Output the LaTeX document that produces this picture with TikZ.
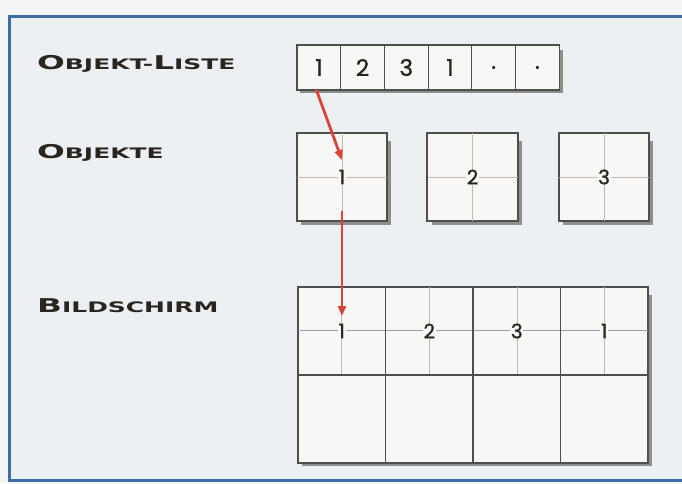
\documentclass[tikz,border=0pt]{standalone}
\usepackage{fontspec}
\setmainfont{Poppins}
\newfontfamily\numfont[FakeBold=1.2]{Poppins}
\newfontfamily\capfont[FakeStretch=1.72]{DejaVu Sans}
\usetikzlibrary{arrows.meta,calc}
\definecolor{pagec}{HTML}{F3F5F6}
\definecolor{bgc}{HTML}{ECF0F3}
\definecolor{boxfill}{HTML}{F7F8F6}
\definecolor{linec}{HTML}{4E4E4C}
\definecolor{thinc}{HTML}{C8B6B2}
\definecolor{thinb}{HTML}{9C9AB4}
\definecolor{shadowc}{HTML}{8E8E8A}
\definecolor{redc}{HTML}{D9443A}
\definecolor{framec}{HTML}{3E6DA6}
\definecolor{inkc}{HTML}{2B2520}
\newcommand\bigC[1]{{\fontsize{19}{20}\selectfont #1}}
\newcommand\smC[1]{{\fontsize{14.5}{16}\selectfont #1}}
\begin{document}
\begin{tikzpicture}[x=1pt,y=-1pt,
  lbl/.style={anchor=base west, inner sep=0, text=inkc, font=\capfont\bfseries},
  boxc/.style={draw=linec, line width=1.1pt, fill=boxfill, inner sep=0},
  cell/.style={boxc, minimum width=43.7, minimum height=45, text=inkc,
    font=\numfont\fontsize{23}{23}\selectfont},
  thinl/.style={draw=thinc, line width=0.7pt},
  thinh/.style={draw=thinb, line width=0.7pt},
  mainl/.style={draw=linec, line width=1.1pt},
  num/.style={inner sep=0.8pt, fill=boxfill, text=inkc, font=\numfont\fontsize{20}{20}\selectfont},
  boxshadow/.style={fill=shadowc},
  redarr/.style={draw=redc, line width=2.8pt, -{Triangle[length=10pt,width=8pt]}}
]
\useasboundingbox (0,0) rectangle (682,483);
\fill[pagec] (0,0) rectangle (682,483);
\fill[bgc] (9,16) rectangle (682,480);
\draw[framec, line width=3.5pt] (690,16.5) -- (9.5,16.5) -- (9.5,480.5) -- (690,480.5);

% labels
\node[lbl] (tliste) at (37,69) {\bigC{O}\smC{BJEKT-}\bigC{L}\smC{ISTE}};
\node[lbl] (tobj) at (37,158) {\bigC{O}\smC{BJEKTE}};
\node[lbl] (tbild) at (37,312) {\bigC{B}\smC{ILDSCHIRM}};

% object list
\fill[boxshadow] (300,50) rectangle (563,93);
\node[cell] (l1) at (318.85,67.5) {1};
\node[cell] (l2) at (362.55,67.5) {2};
\node[cell] (l3) at (406.25,67.5) {3};
\node[cell] (l4) at (449.95,67.5) {1};
\node[cell] (l5) at (493.65,67.5) {.};
\node[cell] (l6) at (537.35,67.5) {.};

% objects
\foreach \i/\x in {1/342,2/472.5,3/604}{
  \fill[boxshadow] (\x-45+4,141) rectangle (\x+45+4,225);
  \node[boxc, minimum width=90, minimum height=88] (o\i) at (\x,177) {};
  \draw[thinl] (o\i.north) -- (o\i.south);
  \draw[thinl] (o\i.west) -- (o\i.east);
  \draw[mainl] (o\i.north west) rectangle (o\i.south east);
  \node[num] (n\i) at (o\i.center) {\i};
}

% screen
\fill[boxshadow] (302,295) rectangle (652,466);
\node[boxc, minimum width=350, minimum height=176] (scr) at (473,375) {};
\foreach \f in {0.125,0.375,0.625,0.875}{
  \draw[thinl] ($(scr.north west)!\f!(scr.north east)$) -- ($(scr.west)!\f!(scr.east)$);
}
\draw[thinh] ($(scr.north west)!0.25!(scr.south west)$) -- ($(scr.north east)!0.25!(scr.south east)$);
\foreach \f in {0.25,0.5,0.75}{
  \draw[mainl] ($(scr.north west)!\f!(scr.north east)$) -- ($(scr.south west)!\f!(scr.south east)$);
}
\draw[mainl] (scr.west) -- (scr.east);
\draw[mainl] (scr.north west) rectangle (scr.south east);
\node[num] (s1) at (341.75,331) {1};
\node[num] (s2) at (429.25,331) {2};
\node[num] (s3) at (516.75,331) {3};
\node[num] (s4) at (604.25,331) {1};

% arrows
\coordinate (a1s) at (316,89);
\coordinate (a1e) at (342,160);
\coordinate (a2s) at (342,211);
\coordinate (a2e) at (342,316);
\draw[redarr] (a1s) -- (a1e);
\draw[redarr] (a2s) -- (a2e);
\end{tikzpicture}
\end{document}
